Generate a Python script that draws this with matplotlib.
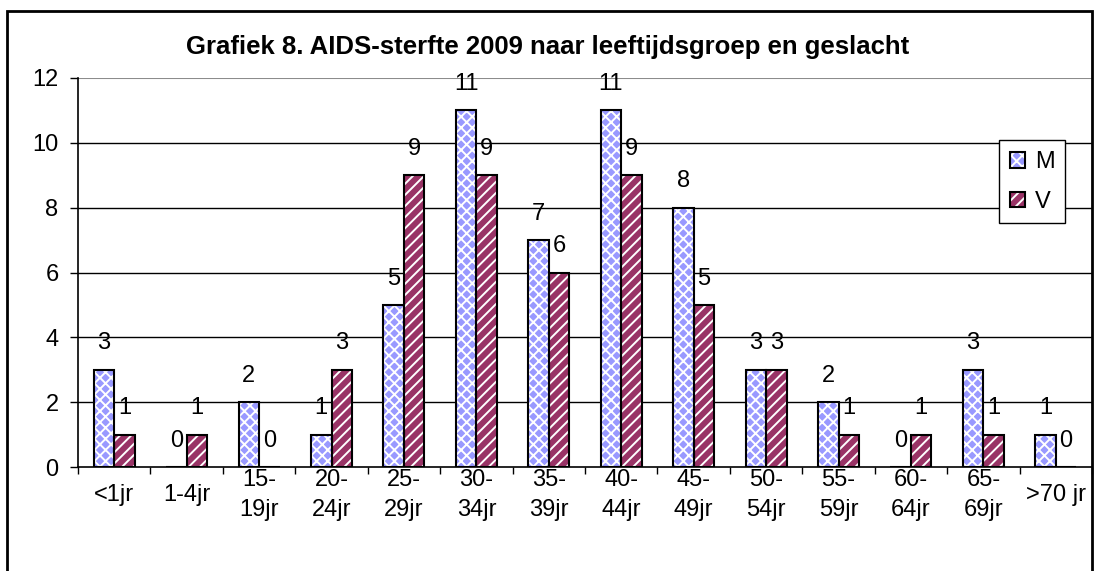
import matplotlib
matplotlib.use("Agg")
import matplotlib.pyplot as plt
import numpy as np
from matplotlib.patches import Patch, Rectangle

categories = ["<1jr", "1-4jr", "15-\n19jr", "20-\n24jr", "25-\n29jr", "30-\n34jr", "35-\n39jr",
              "40-\n44jr", "45-\n49jr", "50-\n54jr", "55-\n59jr", "60-\n64jr", "65-\n69jr", ">70 jr"]
m_values = [3, 0, 2, 1, 5, 11, 7, 11, 8, 3, 2, 0, 3, 1]
v_values = [1, 1, 0, 3, 9, 9, 6, 9, 5, 3, 1, 1, 1, 0]
series_names = ["M", "V"]
title = "Grafiek 8. AIDS-sterfte 2009 naar leeftijdsgroep en geslacht"
yticks = [0, 2, 4, 6, 8, 10, 12]

plt.rcParams['font.family'] = ['Liberation Sans', 'DejaVu Sans']
plt.rcParams['hatch.linewidth'] = 1.4

W, H = 1095, 571
FS = 17
fig = plt.figure(figsize=(W / 100, H / 100), dpi=100)
ax = fig.add_axes([78 / W, 1 - 467 / H, (1092 - 78) / W, (467 - 78) / H])

x = np.arange(len(categories))
bw = 0.283
m_col = '#9999FF'
v_col = '#993366'
m_hatch = 'xxx'
v_hatch = '///'

# grid
for yv in yticks[1:-1]:
    ax.axhline(yv, color='black', lw=1.0, zorder=1)
ax.axhline(yticks[-1], color='#8c8c8c', lw=1.5, zorder=1)

def draw(xpos, vals, col, hatch):
    b1 = ax.bar(xpos, vals, bw, color=col, hatch=hatch, edgecolor='white', linewidth=0, zorder=2)
    ax.bar(xpos, vals, bw, fill=False, edgecolor='black', linewidth=1.5, zorder=3)
    return b1

draw(x - bw / 2, m_values, m_col, m_hatch)
draw(x + bw / 2, v_values, v_col, v_hatch)

for xp, vals in ((x - bw / 2, m_values), (x + bw / 2, v_values)):
    for xi, v in zip(xp, vals):
        ax.annotate(str(v), (xi, v), xytext=(0, 19), textcoords='offset points',
                    ha='center', va='center', fontsize=FS, zorder=4)

ax.set_xlim(-0.5, len(categories) - 0.5)
ax.set_ylim(0, 12)
ax.set_yticks(yticks)
ax.tick_params(axis='y', direction='out', length=6, width=1, pad=8, labelsize=FS)
ax.set_xticks(x)
ax.set_xticklabels(categories, fontsize=FS, linespacing=1.45)
for lab in ax.get_xticklabels():
    lab.set_va('center')
ax.tick_params(axis='x', which='major', length=0, pad=20)
ax.set_xticks(np.arange(len(categories) + 1) - 0.5, minor=True)
ax.tick_params(axis='x', which='minor', length=5, width=1, direction='out')

for s in ('top', 'right'):
    ax.spines[s].set_visible(False)
ax.spines['left'].set_linewidth(1.2)
ax.spines['bottom'].set_linewidth(1.2)

hm = (Patch(facecolor=m_col, hatch=m_hatch, edgecolor='white', linewidth=0),
      Patch(fill=False, edgecolor='black', linewidth=1.5))
hv = (Patch(facecolor=v_col, hatch=v_hatch, edgecolor='white', linewidth=0),
      Patch(fill=False, edgecolor='black', linewidth=1.5))
leg = ax.legend([hm, hv], series_names,
                loc='center', bbox_to_anchor=(0.941, 0.733), fontsize=FS,
                frameon=True, fancybox=False, edgecolor='black', framealpha=1,
                handlelength=0.65, handleheight=0.65, handletextpad=0.4,
                labelspacing=0.75, borderpad=0.45, borderaxespad=0)
leg.get_frame().set_linewidth(1.0)
leg.set_zorder(5)

fig.text(548 / W, 1 - 47 / H, title, ha='center', va='center', fontsize=18.5, fontweight='bold')

fig.patches.append(Rectangle((7 / W, -0.05), (1092 - 7) / W, (1 - 11 / H) + 0.05,
                             transform=fig.transFigure, fill=False, edgecolor='black', linewidth=2))

fig.savefig('out.png', dpi=100)
